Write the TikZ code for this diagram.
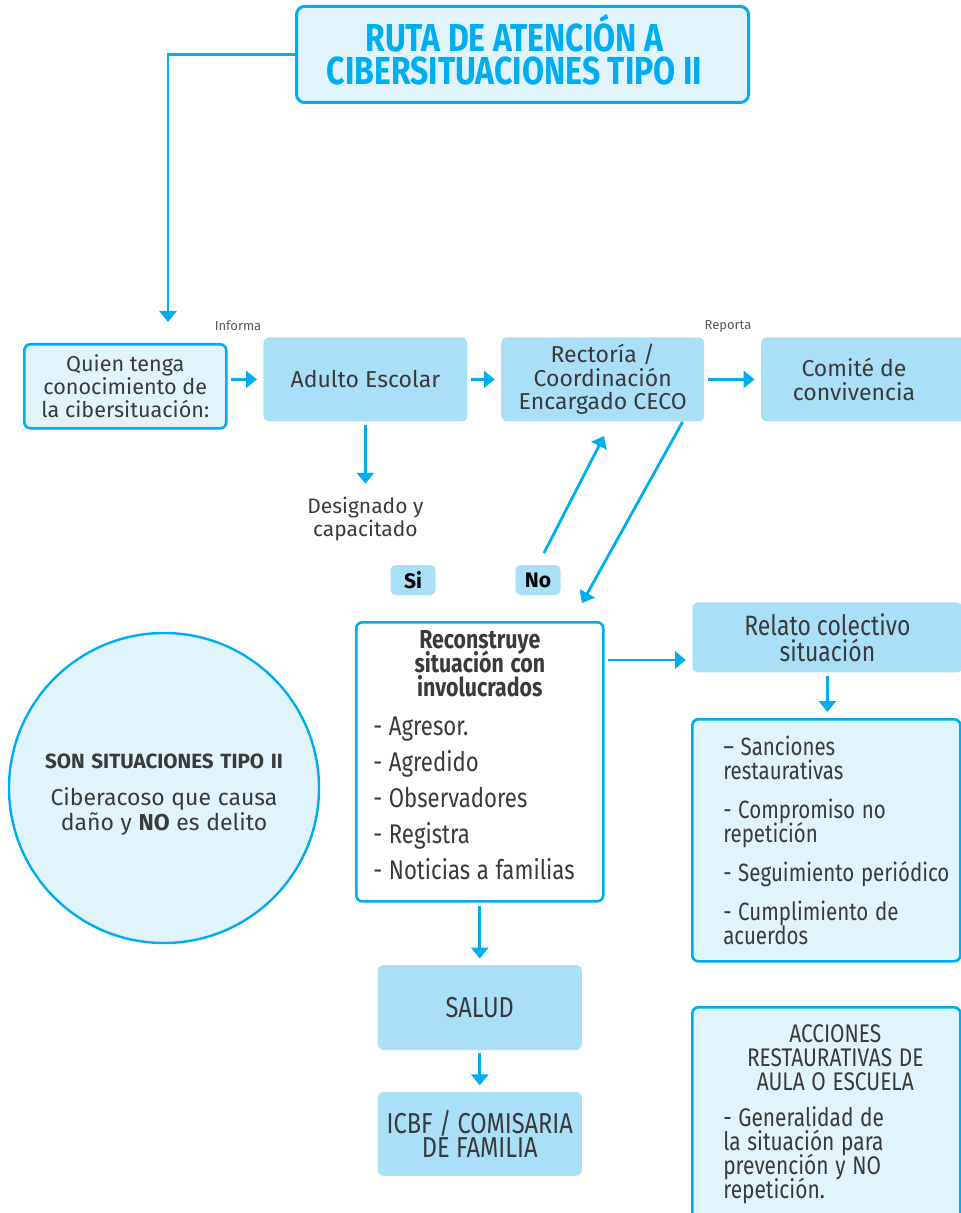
\documentclass[tikz,border=0pt]{standalone}
\usepackage{fontspec}
\setmainfont{Fira Sans}
\newfontfamily\condfont[FakeStretch=0.82]{Fira Sans}
\usetikzlibrary{arrows.meta,positioning,calc}
\setlength{\lineskiplimit}{-20pt}
\definecolor{ruta}{HTML}{00AEEF}
\definecolor{rutapale}{HTML}{E1F3FB}
\definecolor{rutafill}{HTML}{AADFF8}
\definecolor{ink}{HTML}{3A3A3A}
\tikzset{
block/.style={
  rectangle,
  rounded corners=3pt,
  fill=rutafill,
  text=ink,
  align=center,
  font=\fontsize{11.5}{11.8}\selectfont,
  inner sep=0pt},
frame/.style={block, draw=ruta, line width=1.3pt, fill=rutapale},
tag/.style={
  rectangle,
  rounded corners=2.5pt,
  fill=rutafill,
  font=\bfseries\fontsize{10.5}{11}\selectfont,
  minimum width=22.5pt,
  minimum height=15pt,
  inner sep=0pt},
note/.style={text=ink!85, font=\fontsize{6.5}{7}\selectfont, inner sep=0pt},
line/.style={draw=ruta, line width=1.4pt, -{Triangle[width=8.5pt,length=5.5pt]},
  shorten >=3pt, shorten <=1.5pt}
}

\begin{document}
\begin{tikzpicture}[x=0.5pt,y=-0.5pt]
    \useasboundingbox (0,0) rectangle (960,1213);
    \node [frame, anchor=north west, minimum width=226pt, minimum height=48pt, line width=1.5pt,
      rounded corners=4pt, text=ruta, text depth=5pt,
      font=\condfont\bfseries\fontsize{19.5}{16.5}\selectfont]
      (title) at (295,5) {RUTA DE ATENCIÓN A\hspace*{8pt}\\CIBERSITUACIONES TIPO II\hspace*{8pt}};
    \node [frame, anchor=north west, minimum width=101pt, minimum height=42pt,
      font=\fontsize{10.8}{11.7}\selectfont] (quien) at (23,343)
      {Quien tenga\\conocimiento de\\la cibersituación:};
    \node [block, anchor=north west, minimum width=102pt, minimum height=42pt] (adulto) at (263,337)
      {Adulto Escolar};
    \node [block, right=16.5pt of adulto, minimum width=101.5pt, minimum height=42pt] (rect)
      {Rectoría /\\Coordinación\\Encargado CECO};
    \node [block, right=28pt of rect, minimum width=103pt, minimum height=42pt] (comite)
      {Comité de\hspace*{10pt}\\convivencia\hspace*{10pt}};
    \node [note] (informa) at (238,326) {Informa};
    \node [note] (reporta) at (728,326) {Reporta};
    \node [text=ink, align=center, font=\fontsize{10.5}{11.7}\selectfont, below=34pt of adulto] (desig)
      {Designado y\\capacitado};
    \node [tag] (si) at (413,580) {Si};
    \node [tag] (no) at (538,580) {No};
    \node [frame, fill=white, anchor=north west, minimum width=123.5pt, minimum height=139.5pt,
      text width=106.5pt, inner xsep=8.5pt, align=left, text height=2pt, font=\condfont]
      (recon) at (355,621)
      {{\centering\bfseries\fontsize{13}{12}\selectfont\lineskiplimit=-20pt
        Reconstruye\\situación con\\involucrados\par}
       \vspace{1.5pt}
       \fontsize{13.5}{18}\selectfont\lineskiplimit=-20pt
       - Agresor.\\- Agredido\\- Observadores\\- Registra\\- Noticias a familias\par};
    \node [block, anchor=north west, minimum width=135pt, minimum height=35pt,
      font=\condfont\fontsize{14}{13}\selectfont] (relato) at (692,602)
      {Relato colectivo\\situación};
    \node [frame, anchor=north west, minimum width=133.5pt, minimum height=121pt, text width=103pt,
      inner xsep=15.5pt, align=left, font=\condfont] (sanc) at (691,718)
      {\fontsize{12.5}{12}\selectfont\lineskiplimit=-20pt
       – Sanciones\\restaurativas\\[7.5pt]- Compromiso no\\repetición\\[7.5pt]\mbox{- Seguimiento periódico}\\[7.5pt]- Cumplimiento de\\acuerdos\par};
    \node [block, below=31pt of recon, minimum width=102pt, minimum height=42.5pt,
      font=\condfont\fontsize{14.4}{12}\selectfont] (salud) {SALUD};
    \node [block, below=20.5pt of salud, minimum width=102pt, minimum height=42pt,
      font=\condfont\fontsize{14.4}{12}\selectfont] (icbf) {ICBF / COMISARIA\\DE FAMILIA};
    \node [frame, anchor=north west, text width=103pt, inner xsep=15.5pt, inner ysep=8.5pt,
      align=left, font=\condfont] (acc) at (691,1006)
      {{\centering\leftskip=9pt plus 1fil\fontsize{12.75}{12.1}\selectfont\lineskiplimit=-20pt
        ACCIONES\\RESTAURATIVAS DE\\AULA O ESCUELA\par}
       \vspace{6pt}
       \fontsize{12.75}{12}\selectfont\lineskiplimit=-20pt
       - Generalidad de\\la situación para\\prevención y NO\\repetición.\par};
    \node [circle, draw=ruta, line width=1.2pt, fill=rutapale, minimum size=155pt, inner sep=0pt,
      text width=130pt, align=center, text=ink] (tipo) at (164,788)
      {{\bfseries\fontsize{10.3}{10}\selectfont\rule{0pt}{14pt}SON SITUACIONES TIPO II\par}
       \vspace{6pt}
       {\fontsize{11.5}{12.5}\selectfont Ciberacoso que causa\\daño y \textbf{NO} es delito\par}};
    % connectors
    \coordinate (quienIn) at (168,322);
    \coordinate (rectIn) at (604,436);
    \coordinate (rectOut) at ([xshift=-11pt]rect.south east);
    \coordinate (reconIn) at (582,603);
    \coordinate (reconOut) at ([yshift=-19.5pt]recon.north east);
    \path [line, shorten >=0pt, shorten <=0pt] (title.west) -| (quienIn);
    \path [line] (adulto.west -| quien.east) -- (adulto.west);
    \path [line] (adulto) -- (rect);
    \path [line] (rect) -- (comite);
    \path [line] (adulto) -- (desig);
    \path [line, shorten >=0pt, shorten <=6.5pt] (no.north) -- (rectIn);
    \path [line, shorten >=0pt, shorten <=0pt] (rectOut) -- (reconIn);
    \path [line] (reconOut) -- (reconOut -| relato.west);
    \path [line] (relato.south) -- (relato.south |- sanc.north);
    \path [line] (recon.south) -- (recon.south |- salud.north);
    \path [line] (salud) -- (icbf);
\end{tikzpicture}
\end{document}
